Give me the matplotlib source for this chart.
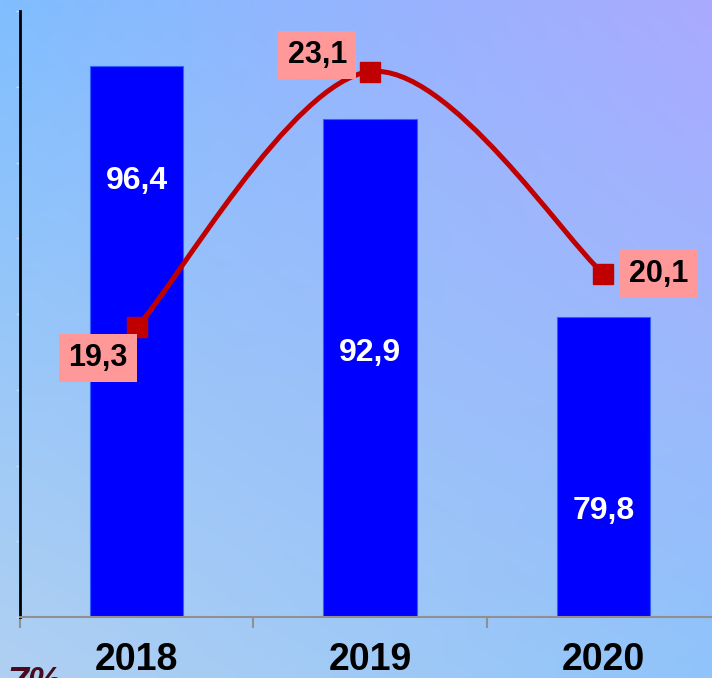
import numpy as np
import matplotlib
matplotlib.use("Agg")
import matplotlib.pyplot as plt
from matplotlib.path import Path
from matplotlib.patches import PathPatch

# ---- data ----
years = ["2018", "2019", "2020"]
bar_values = [96.4, 92.9, 79.8]
line_values = [19.3, 23.1, 20.1]
bar_labels = ["96,4", "92,9", "79,8"]
line_labels = ["19,3", "23,1", "20,1"]

# ---- styles / label placement ----
bar_label_y = [88.75, 77.45, 67.0]            # in bar-axis units
line_label_offsets = [(-28, -22), (-38, 12), (40, 0)]  # points
W, H = 712, 678
dpi = 100

plt.rcParams['font.family'] = ['Liberation Sans', 'DejaVu Sans']

fig = plt.figure(figsize=(W / dpi, H / dpi), dpi=dpi)

# background gradient (bilinear over four corners)
bg = fig.add_axes([0, 0, 1, 1], zorder=-10)
tl = np.array([128, 190, 255]) / 255
tr = np.array([170, 170, 255]) / 255
bl = np.array([176, 208, 242]) / 255
br = np.array([144, 196, 250]) / 255
ny, nx = 100, 100
u = np.linspace(0, 1, nx)[None, :, None]
v = np.linspace(0, 1, ny)[:, None, None]
img = (1 - v) * ((1 - u) * tl + u * tr) + v * ((1 - u) * bl + u * br)
bg.imshow(img, aspect='auto', extent=[0, 1, 0, 1], interpolation='bilinear')
bg.set_axis_off()

# main axes (extends slightly past right edge like the reference)
left = 20 / W
right = 720 / W
bottom = (H - 617) / H
top = (H - 11) / H
ax = fig.add_axes([left, bottom, right - left, top - bottom])
ax.set_facecolor('none')

x = np.arange(len(years))
ax.bar(x, bar_values, width=0.40, color='#0000FF', edgecolor='#3060FF',
       linewidth=0.8, zorder=2)
ax.set_xlim(-0.5, len(years) - 0.5)
ax.set_ylim(60, 100)

for xi, ly, lab in zip(x, bar_label_y, bar_labels):
    ax.text(xi, ly, lab, ha='center', va='center', color='white',
            fontsize=23, fontweight='bold', zorder=3)

# spines
for s in ['top', 'right']:
    ax.spines[s].set_visible(False)
ax.spines['left'].set_color('black')
ax.spines['left'].set_linewidth(2)
ax.spines['bottom'].set_color('#909090')
ax.spines['bottom'].set_linewidth(1.5)

ax.set_yticks(np.arange(60, 101, 5))
ax.set_yticklabels([])
ax.tick_params(axis='y', length=3, width=1, color='#C8DDF5', direction='out')

ax.set_xticks(x)
ax.set_xticklabels(years, fontsize=27, fontweight='bold', color='black')
ax.set_xticks(np.arange(-0.5, len(years) + 0.5, 1), minor=True)
ax.tick_params(axis='x', which='major', length=0, pad=18)
ax.tick_params(axis='x', which='minor', length=8, width=1.5, color='#909090')

# secondary axis for the line
ax2 = ax.twinx()
ax2.set_ylim(15, 24)
ax2.set_axis_off()

# smooth curve (Catmull-Rom -> cubic Bezier, like a spreadsheet smoothed line)
P = np.column_stack([x, line_values]).astype(float)
n = len(P)
verts = [tuple(P[0])]
codes = [Path.MOVETO]
for i in range(n - 1):
    p0 = P[i - 1] if i > 0 else P[i]
    p1 = P[i]
    p2 = P[i + 1]
    p3 = P[i + 2] if i + 2 < n else P[i + 1]
    c1 = p1 + (p2 - p0) / 6
    c2 = p2 - (p3 - p1) / 6
    verts += [tuple(c1), tuple(c2), tuple(p2)]
    codes += [Path.CURVE4] * 3
ax2.add_patch(PathPatch(Path(verts, codes), facecolor='none',
                        edgecolor='#C00000', linewidth=3.6, zorder=4,
                        capstyle='round', joinstyle='round'))
ax2.plot(x, line_values, linestyle='none', marker='s', markersize=14,
         color='#C00000', zorder=5)

for xi, yv, lab, off in zip(x, line_values, line_labels, line_label_offsets):
    ax2.annotate(lab, (xi, yv), xytext=off, textcoords='offset points',
                 ha='center', va='center', fontsize=22, fontweight='bold',
                 color='black', zorder=6,
                 bbox=dict(boxstyle='square,pad=0.3', facecolor='#FF9999',
                           edgecolor='none'))

# text partly cut off at bottom-left, as in the reference
fig.text(7 / W, (H - 666) / H, "7%", ha='left', va='top', fontsize=27,
         fontweight='bold', fontstyle='italic', color='#4A0A1E')

fig.savefig('out.png', dpi=dpi)
